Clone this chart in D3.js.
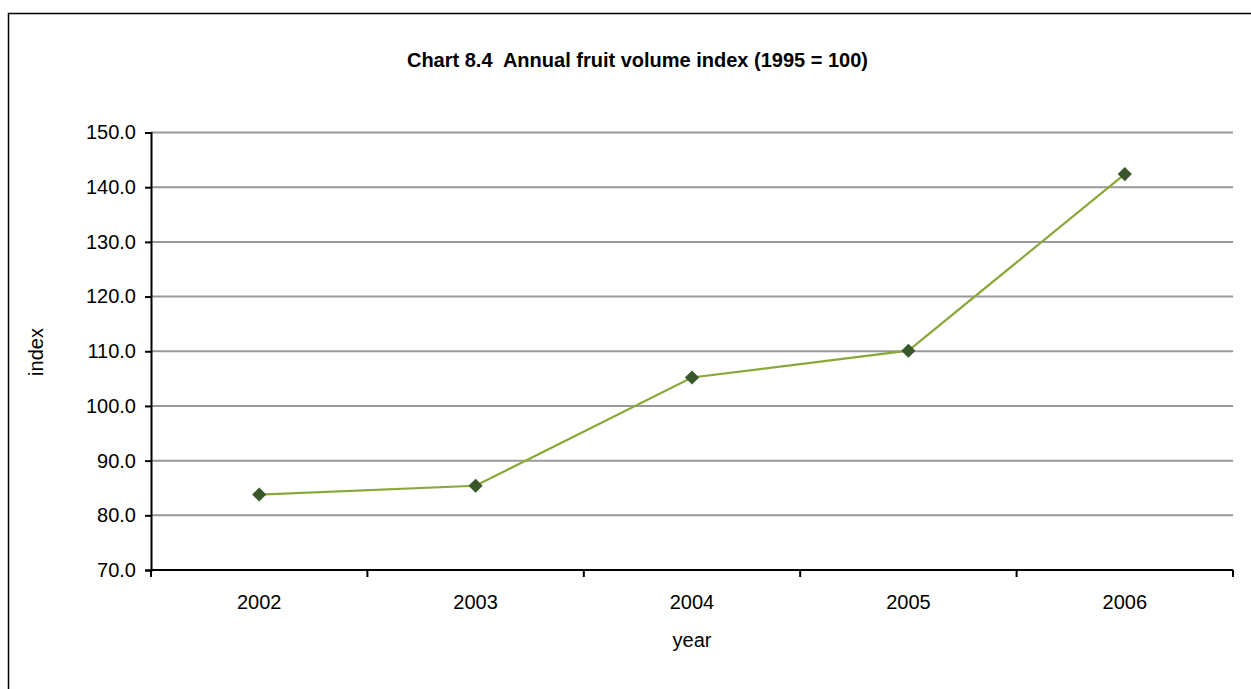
<!DOCTYPE html>
<html><head><meta charset="utf-8">
<script src="https://cdn.jsdelivr.net/npm/d3@7"></script>
<style>body{margin:0;background:#fff;} svg{display:block;font-family:"Liberation Sans",Arial,sans-serif;}</style>
</head><body>
<script>
const years = ["2002","2003","2004","2005","2006"];
const values = [83.8, 85.4, 105.2, 110.1, 142.4];
const yTicks = [70,80,90,100,110,120,130,140,150];
const title = "Chart 8.4  Annual fruit volume index (1995 = 100)";

const W = 1251, H = 689;
const svg = d3.select("body").append("svg").attr("width", W).attr("height", H);
svg.append("rect").attr("x",8.5).attr("y",13.5).attr("width",1260).attr("height",700)
  .attr("fill","#fff").attr("stroke","#000").attr("stroke-width",1.5);

const L = 151, R = 1233, T = 132.5, B = 570;
const x = d3.scaleBand().domain(years).range([L, R]);
const y = d3.scaleLinear().domain([70,150]).range([B, T]);

// gridlines
svg.append("g").selectAll("line").data(yTicks.slice(1)).join("line")
  .attr("x1", L).attr("x2", R).attr("y1", d=>y(d)).attr("y2", d=>y(d))
  .attr("stroke","#999").attr("stroke-width",2);

// y axis
const ya = svg.append("g").attr("transform",`translate(${L},0)`)
  .call(d3.axisLeft(y).tickValues(yTicks).tickFormat(d3.format(".1f")).tickSize(6).tickPadding(9));
ya.select(".domain").attr("stroke","#000").attr("stroke-width",2);
ya.selectAll(".tick line").attr("stroke","#000").attr("stroke-width",2);
ya.selectAll("text").attr("font-size",20).attr("fill","#000").attr("font-family","Liberation Sans, Arial, sans-serif");

// x axis
const xa = svg.append("g").attr("transform",`translate(0,${B})`)
  .call(d3.axisBottom(x).tickSize(0).tickPadding(25));
xa.select(".domain").attr("stroke","#000").attr("stroke-width",2).attr("d",`M${L},0H${R}`);
xa.selectAll("text").attr("font-size",20).attr("fill","#000").attr("font-family","Liberation Sans, Arial, sans-serif");
const bounds = years.map(d=>x(d)).concat([R]);
svg.append("g").selectAll("line").data(bounds).join("line")
  .attr("x1",d=>d).attr("x2",d=>d).attr("y1",B).attr("y2",B+7)
  .attr("stroke","#000").attr("stroke-width",2);

const cx = d => x(d) + x.bandwidth()/2;
const line = d3.line().x((d,i)=>cx(years[i])).y(d=>y(d));
svg.append("path").datum(values).attr("d",line).attr("fill","none")
  .attr("stroke","#8aa83a").attr("stroke-width",2.2);

svg.append("g").selectAll("path").data(values).join("path")
  .attr("transform",(d,i)=>`translate(${cx(years[i])},${y(d)}) rotate(45)`)
  .attr("d", d3.symbol().type(d3.symbolSquare).size(100))
  .attr("fill","#38572a");

svg.append("text").attr("x",637.5).attr("y",67).attr("text-anchor","middle")
  .attr("font-size",20).attr("font-weight","bold").attr("xml:space","preserve")
  .style("white-space","pre").text(title);
svg.append("text").attr("x",692).attr("y",647).attr("text-anchor","middle")
  .attr("font-size",20).text("year");
svg.append("text").attr("transform","translate(43,352) rotate(-90)").attr("text-anchor","middle")
  .attr("font-size",20).text("index");
</script>
</body></html>
